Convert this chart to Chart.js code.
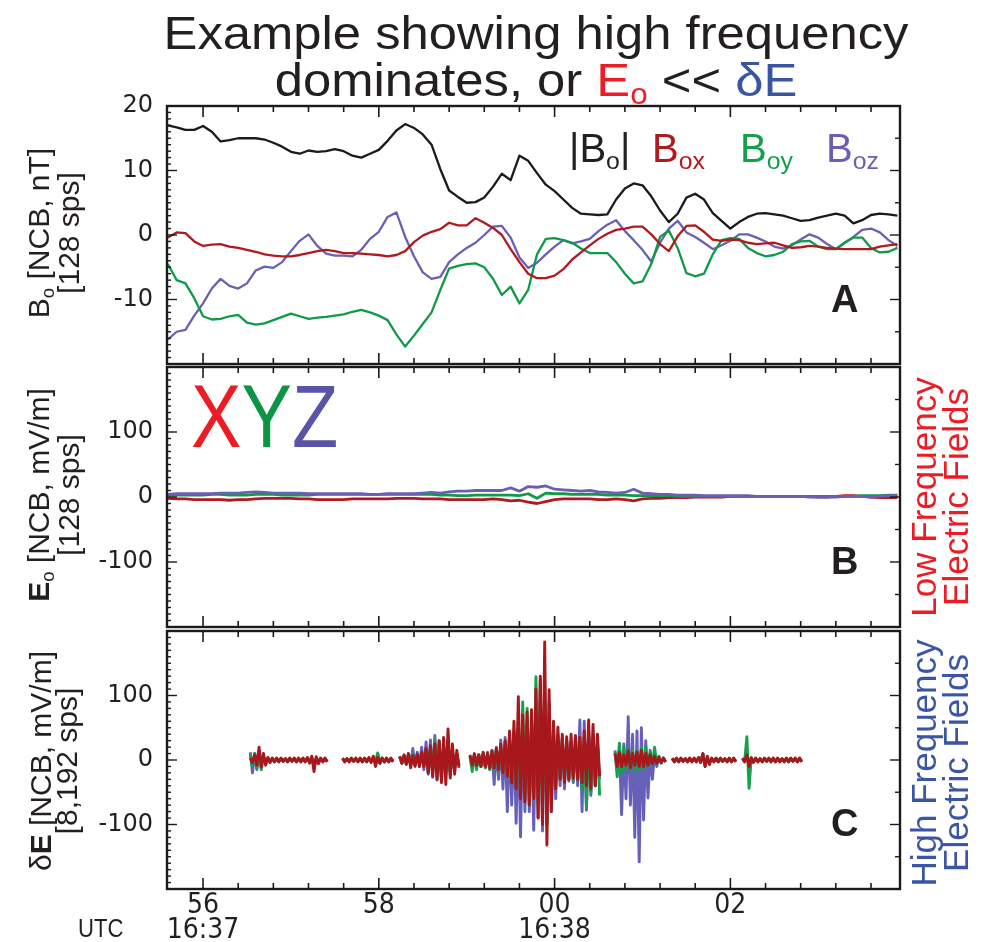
<!DOCTYPE html>
<html><head><meta charset="utf-8"><title>High frequency dominates</title>
<script src="https://cdn.jsdelivr.net/npm/chart.js@4.4.1/dist/chart.umd.min.js"></script>
<style>
html,body{margin:0;padding:0;background:#fff;}
#wrap{position:relative;width:995px;height:942px;overflow:hidden;font-family:'Liberation Sans',Arial,Helvetica,sans-serif;color:#231f20;}
canvas{position:absolute;left:0;top:0;}
.t{position:absolute;white-space:nowrap;line-height:1;}
.sub{font-size:0.62em;position:relative;top:0.28em;}
.rot{position:absolute;white-space:nowrap;text-align:center;transform:translate(-50%,-50%) rotate(-90deg);}
</style></head>
<body><div id="wrap">
<canvas id="cA" width="995" height="942"></canvas>
<canvas id="cB" width="995" height="942"></canvas>
<canvas id="cC" width="995" height="942"></canvas>

<div class="t" style="left:536px;top:9px;font-size:47px;line-height:47px;text-align:center;transform:translateX(-50%) scaleX(1.08);">Example showing high frequency<br>dominates, or <span style="color:#ee1c25">E<span class="sub">o</span></span> &lt;&lt; <span style="color:#3b55a5">δE</span></div>

<div class="t" style="left:569px;top:128px;font-size:40px;color:#231f20;">|B<span class="sub">o</span>|</div>
<div class="t" style="left:652px;top:128px;font-size:40px;color:#b2191f;">B<span class="sub">ox</span></div>
<div class="t" style="left:740px;top:128px;font-size:40px;color:#12a04c;">B<span class="sub">oy</span></div>
<div class="t" style="left:826px;top:128px;font-size:40px;color:#6b5fb4;">B<span class="sub">oz</span></div>

<div class="t" style="left:831px;top:280px;font-size:38px;font-weight:bold;">A</div>
<div class="t" style="left:831px;top:542px;font-size:38px;font-weight:bold;">B</div>
<div class="t" style="left:831px;top:804px;font-size:38px;font-weight:bold;">C</div>

<div class="t" style="left:191px;top:372px;font-size:89px;transform:scaleX(0.85);transform-origin:0 0;"><span style="color:#ed1c24">X</span><span style="color:#0b9444">Y</span><span style="color:#5a54a6">Z</span></div>

<div class="rot" style="left:54px;top:233px;font-size:30px;line-height:26px;">B<span class="sub">o</span> [NCB, nT]<br>[128 sps]</div>
<div class="rot" style="left:54px;top:495px;font-size:30px;line-height:26px;"><b>E</b><span class="sub">o</span> [NCB, mV/m]<br>[128 sps]</div>
<div class="rot" style="left:54px;top:761px;font-size:30px;line-height:26px;">δ<b>E</b> [NCB, mV/m]<br>[8,192 sps]</div>

<div class="rot" style="left:940px;top:497px;font-size:35px;line-height:32px;color:#ed1c24;">Low Frequency<br>Electric Fields</div>
<div class="rot" style="left:940px;top:763px;font-size:35px;line-height:32px;color:#3b55a5;">High Frequency<br>Electric Fields</div>

<div class="t" style="left:78px;top:915px;font-size:26px;transform:scaleX(0.85);transform-origin:0 0;">UTC</div>
</div>
<script>
// ---------- axis definitions (seconds after 16:37:00) ----------
const xMin = 55.59, xMax = 63.93;
const xTickValues = [56, 58, 60, 62];
const xTickLabels = ['56', '58', '00', '02'];
const xTickSubLabels = ['16:37', '', '16:38', ''];
const yTicksA = [-10, 0, 10, 20];
const yTicksE = [-100, 0, 100];

// ---------- panel A & B sample times (s) ----------
const timeA = [55.6,55.7,55.8,55.9,56.0,56.1,56.2,56.3,56.4,56.5,56.6,56.7,56.8,56.9,57.0,57.1,57.2,57.3,57.4,57.5,
57.6,57.7,57.8,57.9,58.0,58.1,58.2,58.3,58.4,58.5,58.6,58.7,58.8,58.9,59.0,59.1,59.2,59.3,59.4,59.5,
59.6,59.7,59.8,59.9,60.0,60.1,60.2,60.3,60.4,60.5,60.6,60.7,60.8,60.9,61.0,61.1,61.2,61.3,61.4,61.5,
61.6,61.7,61.8,61.9,62.0,62.1,62.2,62.3,62.4,62.5,62.6,62.7,62.8,62.9,63.0,63.1,63.2,63.3,63.4,63.5,
63.6,63.7,63.8,63.9];

// ---------- panel A: B0 (nT) ----------
const Bmag = [17.0,16.7,16.3,16.3,16.9,16.0,14.5,14.7,15.0,15.0, 15.0,14.8,14.3,13.7,12.9,12.6,13.1,12.9,13.0,13.3,
13.0,12.3,12.0,12.6,13.2,14.6,16.2,17.2,16.6,15.6, 14.0,10.2,6.9,5.9,5.0,5.1,5.8,7.5,9.5,8.5,
12.3,11.5,9.6,7.8,6.8,5.5,4.2,3.3,3.2,3.1, 3.2,5.5,7.2,8.0,7.7,6.0,3.8,2.0,3.3,5.8,
6.4,5.5,3.4,2.2,1.0,2.0,2.8,3.3,3.4,3.2, 3.0,2.6,2.2,2.3,2.7,3.0,3.3,3.0,1.8,2.3, 3.1,3.3,3.2,3.0];
const Box = [-0.4,0.4,0.3,-1.0,-1.7,-1.5,-1.4,-1.8,-2.0,-2.3, -2.6,-3.0,-3.2,-3.3,-3.3,-3.1,-2.8,-2.5,-2.3,-2.5,
-2.8,-2.8,-2.9,-3.0,-3.1,-3.3,-3.1,-2.5,-1.1,-0.1, 0.5,0.9,1.9,1.5,1.5,2.6,1.9,1.1,0.0,-2.2,
-4.2,-6.0,-6.7,-6.7,-6.3,-5.3,-3.8,-2.7,-1.6,-0.6, 0.2,0.8,1.0,1.3,1.3,0.1,-1.4,-2.5,-0.2,1.4,
1.5,0.5,-0.7,-0.9,-0.7,-0.8,-1.2,-1.4,-1.3,-1.2, -1.6,-2.0,-1.9,-1.7,-1.8,-2.0,-2.1,-2.2,-2.2,-2.2, -2.2,-1.8,-1.6,-1.4];
const Boy = [-4.5,-7.0,-7.5,-9.8,-12.6,-13.1,-13.0,-12.6,-12.4,-13.6, -13.9,-13.7,-13.2,-12.7,-12.2,-12.6,-13.0,-12.8,-12.7,-12.5,
-12.3,-11.9,-11.6,-12.0,-12.5,-13.2,-15.4,-17.3,-15.6,-13.8, -12.0,-8.5,-5.2,-4.8,-4.5,-4.4,-5.0,-6.8,-9.3,-8.0,
-10.6,-8.5,-3.0,-0.6,-0.5,-0.8,-1.2,-2.1,-2.8,-2.8, -2.8,-4.2,-6.0,-7.5,-7.2,-4.5,-0.3,0.7,-2.0,-5.9,
-6.4,-6.0,-3.0,-0.8,-0.5,-0.6,-2.0,-2.8,-3.3,-3.1, -2.6,-1.4,-1.0,-0.9,-1.8,-2.2,-2.2,-1.2,-0.4,-0.4, -2.0,-2.7,-2.6,-2.0];
const Boz = [-16.2,-15.0,-14.7,-12.5,-10.6,-8.3,-6.8,-7.9,-8.3,-7.5, -5.5,-4.9,-5.1,-4.2,-2.5,-0.9,0.1,-1.7,-2.9,-3.2,
-3.2,-3.3,-2.3,-0.6,0.5,2.8,3.5,-0.3,-3.3,-5.8, -6.8,-6.5,-4.2,-3.0,-2.0,-1.2,0.0,1.3,1.4,-0.4,
-3.5,-5.1,-4.3,-3.0,-1.8,-0.8,-1.3,-1.0,-0.6,0.6, 1.6,2.3,0.6,-0.8,-2.3,-4.1,-1.2,1.0,2.2,0.4,
-0.3,-1.2,-2.2,-1.6,-0.9,0.1,0.1,-0.4,-1.0,-1.8, -2.1,-1.6,-0.7,0.1,-0.4,-1.4,-2.2,-1.2,-0.3,0.8, 1.0,0.4,-0.8,-1.7];

// ---------- panel B: E0 (mV/m) ----------
const E0x = [-2,-3,-3,-4,-4,-4,-4,-5,-4,-4, -3,-2,-2,-2,-2,-3,-3,-4,-4,-4, -4,-3,-3,-3,-3,-3,-2,-2,-2,-3,
-3,-3,-4,-4,-4,-4,-4,-3,-4,-6, -5,-8,-10,-7,-4,-3,-3,-3,-3,-4, -4,-3,-4,-6,-3,-2,-2,-1,-1,-1,
0,0,0,0,1,1,1,1,1,1, 1,1,1,1,0,0,1,2,2,1, 0,-1,-1,-1];
const E0y = [3,3,3,3,3,4,4,3,3,3, 4,4,4,3,3,3,3,4,4,4, 4,4,4,4,4,4,4,4,4,4,
4,3,3,2,2,3,3,3,3,3, 2,5,-2,6,5,5,4,4,4,4, 3,3,3,2,2,2,2,2,1,1,
1,1,1,1,1,1,1,1,1,1, 1,1,1,1,1,1,1,1,1,2, 2,2,3,3];
const E0z = [4,5,5,5,5,5,6,6,6,7, 8,7,6,6,6,6,5,5,5,5, 5,5,5,4,4,5,5,5,5,6,
7,6,8,9,9,10,10,10,10,14, 9,16,15,17,12,11,10,9,10,8, 7,6,7,12,6,5,4,4,3,3,
3,2,2,2,2,2,2,1,1,1, 1,1,1,0,0,0,0,1,1,1, 0,1,2,2];

// ---------- panel C: dE burst envelopes [max, min] per 0.05 s bin, from 56.55 s ----------
const dEStart = 56.55, dEStep = 0.05;
const dEx = [[3,-4],[8,-8],[20,-11],[10,-8],[4,-4],[3,-3],[3,-3],[3,-2],[2,-3],[3,-2],[3,-3],[3,-3],[3,-3],[4,-5],[6,-18],[5,-6],[3,-3],[3,-3],
null,null,null,
[3,-3],[2,-3],[3,-2],[3,-3],[3,-3],[3,-3],[4,-4],[6,-10],[4,-5],[3,-3],[3,-3],[3,-3],
null,
[6,-5],[8,-7],[10,-12],[7,-9],[9,-10],[12,-10],[18,-20],[22,-25],[25,-30],[30,-35],[35,-38],[48,-28],[25,-22],[15,-12],
null,null,
[8,-8],[10,-8],[8,-10],[12,-10],[10,-12],[14,-12],[18,-15],[25,-20],[30,-25],[45,-35],[60,-45],[98,-60],[70,-65],[74,-70],[78,-60],
[110,-90],[130,-100],[183,-132],[109,-80],[60,-45],[51,-30],[40,-35],[36,-30],[40,-28],[38,-30],[35,-35],[45,-40],[62,-45],[55,-40],[40,-25],
null,null,null,
[10,-10],[12,-10],[8,-8],[14,-12],[10,-8],[12,-10],[15,-10],[10,-8],[8,-6],[6,-5],[4,-4],[3,-3],
null,
[3,-3],[3,-3],[3,-2],[2,-3],[3,-3],[3,-3],[4,-4],[10,-10],[6,-7],[3,-3],[3,-3],[3,-2],[2,-3],[3,-3],[3,-3],
null,
[3,-3],[8,-10],[3,-3],[3,-3],[2,-3],[3,-2],[3,-3],[3,-3],[3,-3],[2,-3],[3,-3],[3,-2],[3,-3],[3,-3]];
const dEy = [[8,-10],[10,-12],[12,-15],[6,-6],[2,-2],[2,-2],[2,-2],[2,-2],[2,-2],[2,-2],[2,-2],[2,-2],[2,-2],[2,-2],[4,-8],[2,-2],[2,-2],[2,-2],
null,null,null,
[2,-2],[2,-2],[2,-2],[2,-2],[2,-2],[2,-2],[2,-2],[3,-3],[11,-5],[3,-3],[2,-2],[2,-2],
null,
[5,-5],[7,-6],[8,-8],[10,-8],[8,-7],[10,-10],[15,-20],[20,-18],[31,-25],[25,-28],[20,-22],[28,-24],[15,-15],[10,-8],
null,null,
[6,-18],[8,-15],[8,-10],[10,-12],[10,-15],[14,-15],[18,-18],[22,-20],[28,-25],[35,-30],[40,-40],[50,-55],[90,-60],[80,-70],[60,-60],
[129,-70],[125,-90],[100,-100],[70,-70],[40,-40],[35,-30],[30,-33],[30,-30],[28,-32],[25,-30],[30,-45],[35,-72],[40,-50],[35,-40],[30,-55],
null,null,null,
[12,-26],[26,-20],[20,-15],[18,-15],[15,-18],[14,-15],[18,-12],[21,-10],[12,-8],[20,-6],[6,-5],[3,-3],
null,
[2,-2],[2,-2],[2,-2],[2,-2],[2,-2],[2,-2],[2,-2],[8,-8],[2,-2],[2,-2],[2,-2],[2,-2],[2,-2],[2,-2],[2,-2],
null,
[2,-2],[36,-44],[4,-4],[2,-2],[2,-2],[2,-2],[2,-2],[2,-2],[2,-2],[2,-2],[2,-2],[2,-2],[2,-2],[2,-2]];
const dEz = [[12,-20],[10,-15],[8,-8],[4,-4],[2,-2],[2,-2],[2,-2],[2,-2],[2,-2],[2,-2],[2,-2],[2,-2],[2,-2],[2,-2],[3,-5],[2,-2],[2,-2],[2,-2],
null,null,null,
[2,-2],[2,-2],[2,-2],[2,-2],[2,-2],[2,-2],[2,-2],[2,-2],[5,-5],[2,-2],[2,-2],[2,-2],
null,
[5,-5],[6,-6],[10,-8],[18,-10],[12,-10],[20,-15],[28,-22],[31,-27],[38,-31],[30,-25],[22,-20],[20,-18],[12,-12],[8,-8],
null,null,
[6,-8],[8,-10],[8,-10],[10,-12],[12,-15],[15,-38],[20,-30],[31,-45],[35,-80],[40,-70],[45,-98],[50,-119],[55,-80],[60,-80],[65,-109],
[80,-90],[110,-110],[119,-100],[90,-80],[55,-60],[40,-40],[35,-45],[30,-33],[28,-35],[35,-40],[62,-80],[60,-78],[45,-55],[35,-40],[25,-30],
null,null,null,
[15,-15],[20,-85],[25,-60],[67,-70],[40,-120],[45,-158],[50,-93],[30,-59],[15,-30],[10,-10],[4,-4],[3,-3],
null,
[2,-2],[2,-2],[2,-2],[2,-2],[2,-2],[2,-2],[2,-2],[10,-10],[2,-2],[2,-2],[2,-2],[2,-2],[2,-2],[2,-2],[2,-2],
null,
[2,-2],[10,-6],[2,-2],[2,-2],[2,-2],[2,-2],[2,-2],[2,-2],[2,-2],[2,-2],[2,-2],[2,-2],[2,-2],[2,-2]];

// ---------- colours ----------
const cBlack = '#1a1a1a', cRed = '#b2191f', cGreen = '#0f9a4a', cPurple = '#6b5fb4';
const cRedC = '#a8171c', cGreenC = '#15a04c', cPurpleC = '#6660b8';

function series(times, vals){ return vals.map((v,i)=>({x:times[i], y:v})); }
function burst(pairs){
  const pts = [];
  pairs.forEach((p,i)=>{
    const t = dEStart + i*dEStep;
    if(p === null){ pts.push({x:t, y:null}); return; }
    pts.push({x:t - dEStep/4, y:p[0]});
    pts.push({x:t + dEStep/4, y:p[1]});
  });
  return pts;
}

const frameTicks = {
  id:'frameTicks',
  afterDatasetsDraw(chart, args, o){
    const {ctx, chartArea:a, scales} = chart; const x = scales.x, y = scales.y;
    ctx.save(); ctx.strokeStyle = '#1a1a1a';
    const seg = (x1,y1,x2,y2,w)=>{ ctx.lineWidth=w; ctx.beginPath(); ctx.moveTo(x1,y1); ctx.lineTo(x2,y2); ctx.stroke(); };
    for(let k=0; k<=25; k++){
      const v = Math.round((55.6 + k*0.4)*10)/10;
      const px = x.getPixelForValue(v);
      if(px < a.left+2 || px > a.right-2) continue;
      const L = xTickValues.includes(v) ? 11 : 6;
      seg(px, a.top, px, a.top+L, 1.6); seg(px, a.bottom, px, a.bottom-L, 1.6);
    }
    for(let v=y.min; v<=y.max+1e-9; v+=o.minorL){
      const py = y.getPixelForValue(v); if(py < a.top+2 || py > a.bottom-2) continue;
      seg(a.left, py, a.left + (o.major.includes(v)?10:4), py, 1.4);
    }
    for(let v=y.min; v<=y.max+1e-9; v+=o.minorR){
      const py = y.getPixelForValue(v); if(py < a.top+2 || py > a.bottom-2) continue;
      seg(a.right, py, a.right - (o.major.includes(v)?10:5), py, 1.4);
    }
    ctx.lineWidth = 2.4; ctx.strokeRect(a.left, a.top, a.width, a.height);
    ctx.restore();
  }
};

function makeChart(id, datasets, yMin, yMax, yTicks, padTop, padBottom, showX, minorL, minorR){
  return new Chart(document.getElementById(id), {
    type:'line',
    data:{datasets},
    options:{
      responsive:false, animation:false, devicePixelRatio:1,
      layout:{padding:{left:0, right:95, top:padTop, bottom:padBottom}},
      plugins:{legend:{display:false}, tooltip:{enabled:false}, title:{display:false},
               filler:{propagate:false}, frameTicks:{major:yTicks, minorL, minorR}},
      elements:{point:{radius:0}, line:{tension:0, borderJoinStyle:'round'}},
      scales:{
        x:{type:'linear', min:xMin, max:xMax, display:showX,
           grid:{display:false}, border:{display:false},
           afterBuildTicks: s => { s.ticks = xTickValues.map(v=>({value:v})); },
           afterFit: s => { s.height = showX ? 53 : 0; },
           ticks:{autoSkip:false, maxRotation:0, padding:-4, color:'#231f20',
                  font:{family:"'DejaVu Sans Condensed','DejaVu Sans'", size:28, lineHeight:0.9},
                  callback: v => { const i = xTickValues.indexOf(v); if(i<0) return ''; return xTickSubLabels[i] ? [xTickLabels[i], xTickSubLabels[i]] : xTickLabels[i]; }}
        },
        y:{type:'linear', min:yMin, max:yMax,
           grid:{display:false}, border:{display:false},
           afterBuildTicks: s => { s.ticks = yTicks.map(v=>({value:v})); },
           afterFit: s => { s.width = 167; },
           ticks:{padding:6, color:'#231f20', font:{family:"'DejaVu Sans'", size:24}, callback: v => String(v)}
        }
      }
    },
    plugins:[frameTicks]
  });
}

makeChart('cA', [
  {data:series(timeA, Bmag), borderColor:cBlack, borderWidth:2.3, order:0},
  {data:series(timeA, Box), borderColor:cRed, borderWidth:2.3, order:1},
  {data:series(timeA, Boy), borderColor:cGreen, borderWidth:2.3, order:2},
  {data:series(timeA, Boz), borderColor:cPurple, borderWidth:2.3, order:3}
], -20, 20, yTicksA, 106, 942-364, false, 1, 5);

makeChart('cB', [
  {data:series(timeA, E0x), borderColor:cRed, borderWidth:2.8, order:2},
  {data:series(timeA, E0y), borderColor:cGreen, borderWidth:2.8, order:1},
  {data:series(timeA, E0z), borderColor:cPurple, borderWidth:2.8, order:0}
], -200, 200, yTicksE, 367, 942-627, false, 10, 50);

makeChart('cC', [
  {data:burst(dEx), borderColor:cRedC, backgroundColor:cRedC, fill:'origin', borderWidth:2.9, order:0, spanGaps:false},
  {data:burst(dEy), borderColor:cGreenC, backgroundColor:cGreenC, fill:'origin', borderWidth:2.9, order:1, spanGaps:false},
  {data:burst(dEz), borderColor:cPurpleC, backgroundColor:cPurpleC, fill:'origin', borderWidth:2.9, order:2, spanGaps:false}
], -200, 200, yTicksE, 631, 0, true, 10, 50);
</script>
</body></html>
